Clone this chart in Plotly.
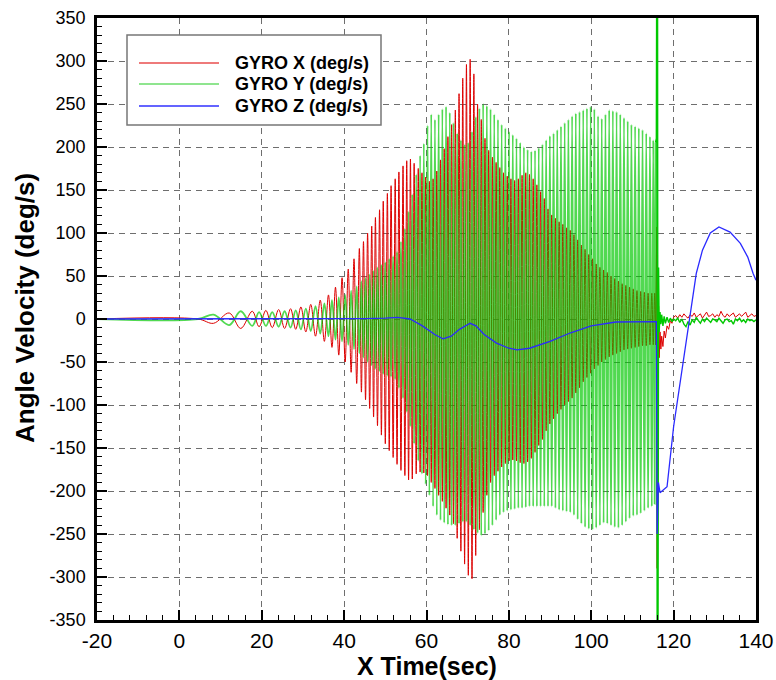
import plotly.graph_objects as go

# ---------------- data ----------------
START_T = -20.0
START_V = 0.0

# time of each red peak / green trough (one entry per oscillation cycle, last = end boundary)
TP = [4.5, 12.1, 17.7, 21.0, 24.1, 27.0, 29.5, 31.9, 34.2, 36.2, 37.9, 39.5, 41.0, 42.4, 43.7,
      44.7, 45.7, 46.7, 47.6, 48.6, 49.5, 50.5, 51.4, 52.4, 53.3, 54.3, 55.2, 56.1, 57.0, 58.0,
      58.9, 59.8, 60.7, 61.6, 62.5, 63.4, 64.3, 65.2, 66.1, 67.0, 67.9, 68.8, 69.7, 70.6, 71.5,
      72.4, 73.3, 74.2, 75.1, 76.0, 76.9, 77.8, 78.7, 79.6, 80.5, 81.4, 82.3, 83.2, 84.1, 85.0,
      85.9, 86.8, 87.7, 88.6, 89.5, 90.4, 91.3, 92.2, 93.1, 94.0, 94.9, 95.8, 96.7, 97.6, 98.5,
      99.4, 100.3, 101.2, 102.1, 103.0, 103.9, 104.8, 105.7, 106.6, 107.5, 108.4, 109.3, 110.2,
      111.1, 112.0, 112.9, 113.8, 114.7, 115.4, 115.8]

# GYRO X peaks (at TP) and troughs (half a cycle later)
GX_PEAK = [0, 7, 9, 10, 11, 12, 14, 17, 22, 28, 37, 48, 58, 70, 82,
           90, 100, 108, 118, 127, 137, 146, 155, 163, 171, 178, 184, 186, 181, 175,
           170, 165, 160, 163, 172, 185, 198, 212, 226, 243, 262, 280, 296, 302, 285,
           250, 232, 210, 196, 188, 182, 176, 170, 166, 163, 161, 163, 167, 170, 168,
           163, 156, 148, 140, 128, 121, 117, 113, 110, 106, 103, 98, 92, 86, 81,
           75, 70, 64, 60, 57, 54, 50, 47, 44, 41, 39, 37, 35, 33, 32, 31, 30, 30, 30]
GX_TROUGH = [-5, -11, -9, -10, -11, -12, -15, -20, -26, -33, -42, -50, -62, -75, -85,
             -94, -104, -114, -124, -135, -145, -153, -161, -169, -176, -182, -187, -186, -180, -178,
             -179, -182, -190, -197, -205, -212, -220, -228, -238, -255, -270, -285, -298, -302, -275,
             -245, -225, -205, -190, -182, -177, -172, -168, -165, -164, -165, -167, -168, -166, -162,
             -155, -147, -140, -130, -122, -116, -110, -105, -100, -96, -92, -86, -80, -73, -68,
             -63, -58, -54, -50, -47, -44, -42, -40, -38, -36, -35, -34, -33, -32, -31, -31, -30, -30, -30]

# GYRO Y troughs (at TP) and peaks (half a cycle later)
GY_TROUGH = [0, -7, -8, -8, -9, -10, -12, -14, -17, -20, -24, -26, -30, -35, -40,
             -45, -50, -54, -58, -61, -64, -66, -67, -70, -80, -92, -108, -125, -145, -165,
             -180, -192, -205, -218, -228, -234, -237, -239, -240, -240, -238, -236, -236, -240, -245,
             -249, -252, -250, -246, -240, -234, -228, -225, -223, -222, -221, -220, -220, -219, -218,
             -218, -218, -218, -218, -218, -218, -220, -222, -223, -224, -225, -228, -233, -238, -242,
             -244, -245, -243, -240, -237, -238, -240, -242, -243, -240, -236, -232, -229, -228, -226,
             -223, -220, -218, -215]
GY_PEAK = [5, 9, 8, 8, 9, 10, 12, 15, 18, 22, 25, 28, 33, 38, 44,
           48, 52, 56, 60, 63, 66, 70, 73, 78, 90, 105, 125, 145, 168, 190,
           204, 225, 238, 232, 238, 244, 247, 240, 228, 216, 208, 203, 205, 218, 235,
           245, 250, 248, 244, 238, 232, 226, 222, 218, 214, 210, 205, 200, 197, 195,
           196, 199, 203, 208, 213, 216, 220, 224, 228, 232, 236, 239, 241, 243, 245,
           247, 244, 236, 233, 238, 243, 242, 241, 238, 234, 230, 226, 224, 222, 220,
           216, 212, 208, 205]

# after-separation samples (spike + settled noise)
TAIL_T = [115.8, 115.9, 116.0, 116.1, 116.2, 116.35, 116.5, 116.7, 116.9, 117.1, 117.4, 117.7,
          118.0, 118.4, 118.8, 119.2, 119.6, 120.0, 120.5, 121.0, 121.5, 122.0, 122.5, 123.0,
          123.5, 124.0, 124.5, 125.0, 125.5, 126.0, 126.5, 127.0, 127.5, 128.0, 128.5, 129.0,
          129.5, 130.0, 130.5, 131.0, 131.5, 132.0, 132.5, 133.0, 133.5, 134.0, 134.5, 135.0,
          135.5, 136.0, 136.5, 137.0, 137.5, 138.0, 138.5, 139.0, 139.5, 140.0]
GX_TAIL = [30, 107, -290, 60, -120, 15, -45, -15, -35, -20, -32, -14, -22, -8, -12, -2, -5, 2,
           4, 1, 5, 2, 6, 3, 1, 5, 3, 7, 2, 4, 6, 1, 5, 8, 3, 4, 6, 2, 5, 3, 9, 4, 2, 6,
           3, 5, 7, 2, 4, 6, 3, 5, 8, 2, 4, 6, 3, 4]
GY_TAIL = [210, 420, -420, 400, -410, 60, -15, 8, -6, 5, -8, 3, -5, 2, -4, 1, -3, 0,
           -2, 1, -4, 0, -6, -9, -3, -7, -1, -4, 2, -2, -5, 0, -3, 1, -2, -4, 0, -1, -3, 1,
           -2, -5, -1, 0, -3, -2, -6, 0, -2, 1, -3, -1, -4, 0, -2, -1, -3, -1]

# GYRO Z
GZ_T = [-20, 0, 20, 40, 45, 50, 53, 56, 59, 62, 64, 66, 68, 70.6, 72, 74, 77, 80, 82, 85, 90,
        95, 100, 106, 110, 115, 115.8, 116.0, 116.3, 116.7, 117.2, 118.4, 120, 122.4, 124.5,
        125.5, 127, 128.9, 131, 133.7, 136.2, 138, 139.3, 140]
GZ_V = [0, 0, 0, 0, 0.5, 1, 2, 0, -8, -18, -23, -20, -12, -5, -8, -18, -28, -34, -36, -34, -26,
        -16, -8, -3.5, -3, -3, -3, -250, -190, -202, -200, -195, -125, -48, 22, 53, 80, 100,
        107, 101, 88, 72, 53, 45]

X_TICKS = [-20, 0, 20, 40, 60, 80, 100, 120, 140]
Y_TICKS = [-350, -300, -250, -200, -150, -100, -50, 0, 50, 100, 150, 200, 250, 300, 350]

SERIES_NAMES = ["GYRO X (deg/s)", "GYRO Y (deg/s)", "GYRO Z (deg/s)"]
X_TITLE = "X Time(sec)"
Y_TITLE = "Angle Velocity (deg/s)"

# ---------------- build traces ----------------
rx, ry = [START_T], [START_V]
gx, gy = [START_T], [START_V]
for i in range(len(GX_PEAK)):
    mid = (TP[i] + TP[i + 1]) / 2
    rx += [TP[i], mid]
    ry += [GX_PEAK[i], GX_TROUGH[i]]
    gx += [TP[i], mid]
    gy += [GY_TROUGH[i], GY_PEAK[i]]

RED = "#dd0000"
GREEN = "#00c800"
BLUE = "#2a2aff"

fig = go.Figure()
fig.add_trace(go.Scatter(x=rx, y=ry, mode="lines", line=dict(color=RED, width=1, shape="spline"),
                         name=SERIES_NAMES[0], showlegend=False))
fig.add_trace(go.Scatter(x=[rx[-1]] + TAIL_T, y=[ry[-1]] + GX_TAIL, mode="lines",
                         line=dict(color=RED, width=1), showlegend=False))
fig.add_trace(go.Scatter(x=gx, y=gy, mode="lines", opacity=0.68,
                         line=dict(color=GREEN, width=1.8, shape="spline"),
                         name=SERIES_NAMES[1], showlegend=False))
fig.add_trace(go.Scatter(x=[gx[-1]] + TAIL_T, y=[gy[-1]] + GY_TAIL, mode="lines",
                         line=dict(color=GREEN, width=1.4), showlegend=False))
fig.add_trace(go.Scatter(x=GZ_T, y=GZ_V, mode="lines", line=dict(color=BLUE, width=1.3),
                         name=SERIES_NAMES[2], showlegend=False))

# ---------------- layout ----------------
L, R, T, B = 97, 20, 18, 60
W, H = 776, 680
pw, ph = W - L - R, H - T - B

def px(x):
    return (x - L) / pw

def py(y):
    return (H - B - y) / ph

grid_dash = "6px,5px"
fig.update_layout(
    width=W, height=H, margin=dict(l=L, r=R, t=T, b=B, autoexpand=False),
    plot_bgcolor="white", paper_bgcolor="white", showlegend=False,
    xaxis=dict(range=[-20, 140], tickmode="array", tickvals=X_TICKS,
               ticktext=[str(v) for v in X_TICKS], automargin=False,
               ticks="inside", ticklen=10, tickwidth=2, tickcolor="black",
               showline=True, linewidth=2.5, linecolor="black", mirror=True,
               showgrid=True, gridcolor="#6e6e6e", gridwidth=1, griddash=grid_dash,
               zeroline=False, ticklabelstandoff=0,
               tickfont=dict(family="Liberation Sans, Arial", size=21, color="black"),
               minor=dict(dtick=4, tick0=-20, ticks="inside", ticklen=5, tickwidth=1,
                          tickcolor="black", showgrid=False)),
    yaxis=dict(range=[-350, 350], tickmode="array", tickvals=Y_TICKS,
               ticktext=[str(v) for v in Y_TICKS], automargin=False,
               ticks="inside", ticklen=10, tickwidth=2, tickcolor="black",
               showline=True, linewidth=2.5, linecolor="black", mirror=True,
               showgrid=True, gridcolor="#6e6e6e", gridwidth=1, griddash=grid_dash,
               zeroline=False, ticklabelstandoff=5,
               tickfont=dict(family="Liberation Sans, Arial", size=18, color="black"),
               minor=dict(dtick=10, tick0=-350, ticks="inside", ticklen=5, tickwidth=1,
                          tickcolor="black", showgrid=False)),
)

ann = []
ann.append(dict(text="<b>%s</b>" % X_TITLE, xref="paper", yref="paper", x=0.5, y=py(666),
                xanchor="center", yanchor="middle", showarrow=False,
                font=dict(family="Liberation Sans, Arial", size=25, color="black")))
ann.append(dict(text="<b>%s</b>" % Y_TITLE, xref="paper", yref="paper", x=px(25), y=py(308),
                xanchor="center", yanchor="middle", textangle=-90, showarrow=False,
                font=dict(family="Liberation Sans, Arial", size=26, color="black")))

# legend box drawn by hand (longer line samples than Plotly's legend)
shapes = [dict(type="rect", xref="paper", yref="paper", x0=px(127), x1=px(381), y0=py(125), y1=py(35),
               line=dict(color="#777777", width=1.5), fillcolor="white", layer="above")]
leg_cols = ["#ee7a7a", "#8fe58f", "#6464ff"]
rows = [63, 84, 106]
for name, col, ry_ in zip(SERIES_NAMES, leg_cols, rows):
    shapes.append(dict(type="line", xref="paper", yref="paper", x0=px(139), x1=px(219),
                       y0=py(ry_), y1=py(ry_), line=dict(color=col, width=2), layer="above"))
    ann.append(dict(text="<b>%s</b>" % name, xref="paper", yref="paper", x=px(233), y=py(ry_),
                    xanchor="left", yanchor="middle", showarrow=False,
                    font=dict(family="Liberation Sans, Arial", size=18, color="black")))

fig.update_layout(annotations=ann, shapes=shapes)
fig.write_html("out.html")
